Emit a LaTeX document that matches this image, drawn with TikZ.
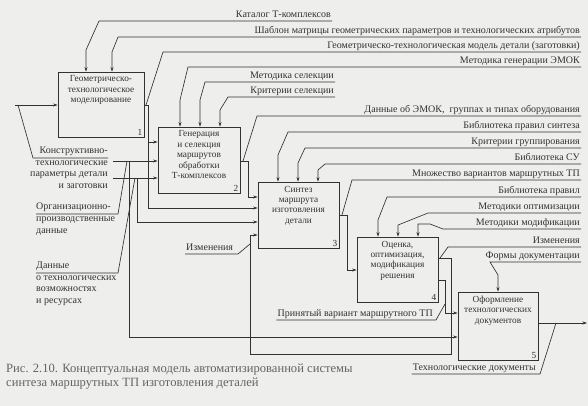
\documentclass[tikz,border=0pt]{standalone}
\usepackage{fontspec}
\setmainfont{Liberation Serif}
\usetikzlibrary{arrows.meta, positioning, calc}
\definecolor{ink}{RGB}{50,50,50}
\definecolor{capink}{RGB}{100,100,100}
\definecolor{paper}{RGB}{238,238,236}
\newcommand{\boxfont}{\fontsize{9.3}{10.4}\selectfont}
\newcommand{\lblfont}{\fontsize{10}{11.6}\selectfont}
\newcommand{\capfont}{\fontsize{12.6}{14}\selectfont}

\begin{document}
\begin{tikzpicture}[
    x=1pt, y=-1pt,
    fbox/.style={draw=ink, line width=0.7pt, inner sep=0pt},
    ftext/.style={align=center, font=\boxfont, text=ink, inner sep=1pt},
    fnum/.style={font=\boxfont, text=ink, inner sep=2pt, anchor=south east},
    lbl/.style={font=\lblfont, text=ink, inner sep=1pt, text depth=2.5pt, anchor=south east},
    side/.style={font=\lblfont, text=ink, inner sep=0pt},
    wire/.style={draw=ink, line width=0.65pt},
    arr/.style={wire, -{Stealth[length=4.5pt, width=3pt]}}
]
    \fill[paper] (0,0) rectangle (588,406);
    \useasboundingbox (0,0) rectangle (588,406);

    % functional blocks
    \node[fbox, minimum width=86pt, minimum height=65pt] (gtm) at (101,104.5) {};
    \node[fbox, minimum width=82pt, minimum height=66pt] (gen) at (199,160) {};
    \node[fbox, minimum width=81pt, minimum height=66pt] (syn) at (298.5,215) {};
    \node[fbox, minimum width=81pt, minimum height=65pt] (opt) at (397.5,269.5) {};
    \node[fbox, minimum width=80pt, minimum height=68pt] (doc) at (498,326) {};

    \node[ftext, below=3pt of gtm.north] {Геометрическо-\\технологическое\\моделирование};
    \node[ftext, below=3pt of gen.north] {Генерация\\и селекция\\маршрутов\\обработки\\Т-комплексов};
    \node[ftext, below=3pt of syn.north] {Синтез\\маршрута\\изготовления\\детали};
    \node[ftext, below=3pt of opt.north] {Оценка,\\оптимизация,\\модификация\\решения};
    \node[ftext, below=3pt of doc.north] {Оформление\\технологических\\документов};

    \node[fnum] at (gtm.south east) {1};
    \node[fnum] at (gen.south east) {2};
    \node[fnum] at (syn.south east) {3};
    \node[fnum] at (opt.south east) {4};
    \node[fnum] at (doc.south east) {5};

    % inputs on the left
    \coordinate (kin) at (15,105);
    \coordinate (orgin) at (113,161);
    \coordinate (techin) at (113,178);
    \node[side, anchor=north east, align=right] (kt) at (108,147)
        {Конструктивно-\\технологические\\параметры детали\\и заготовки};
    \node[side, anchor=north west, align=left] (org) at (36,203)
        {Организационно-\\производственные\\данные};
    \node[side, anchor=north west, align=left] (tech) at (36,262)
        {Данные\\о технологических\\возможностях\\и ресурсах};

    \draw[arr] (kin) -- (gtm.west |- kin);
    \draw[arr] (orgin) -- (gen.west |- orgin);
    \draw[arr] (techin) -- (gen.west |- techin);
    \draw[arr] (129,161) |- (doc.west |- 0,337);
    \draw[arr] (137,178) |- (syn.west |- 0,222);
    \draw[wire] (kt.north east |- 0,158) -- (33,158) -- (18,105);
    \draw[wire] (org.north west |- 0,214) -- (118,214) -- (127,161);
    \draw[wire] (tech.north west |- 0,273) -- (118,273) -- (135,178);

    % controls and labelled outputs
    \node[lbl] (catalog) at (332,21) {Каталог Т-комплексов};
    \draw[arr] (catalog.south east) -- (99,21) -- (86,50) -- (gtm.north -| 86,0);
    \node[lbl] (template) at (581,37) {Шаблон матрицы геометрических параметров и технологических атрибутов};
    \draw[arr] (template.south east) -- (118,37) -- (112,52) -- (gtm.north -| 112,0);
    \node[lbl] (geomodel) at (581,52) {Геометрическо-технологическая модель детали (заготовки)};
    \draw[wire] (geomodel.south east) -- (163,52) -- (146,105);
    \node[lbl] (genmeth) at (581,67) {Методика генерации ЭМОК};
    \draw[arr] (genmeth.south east) -- (188,67) -- (180,100) -- (gen.north -| 180,0);
    \node[lbl] (selmeth) at (335,82) {Методика селекции};
    \draw[arr] (selmeth.south east) -- (205,82) -- (200,100) -- (gen.north -| 200,0);
    \node[lbl] (selcrit) at (335,97) {Критерии селекции};
    \draw[arr] (selcrit.south east) -- (228,97) -- (220,110) -- (gen.north -| 220,0);
    \node[lbl] (emok) at (581,116) {Данные об ЭМОК,~ группах и типах оборудования};
    \draw[wire] (emok.south east) -- (257,116) -- (243,161);
    \node[lbl] (synlib) at (581,132) {Библиотека правил синтеза};
    \draw[arr] (synlib.south east) -- (288,132) -- (278,155) -- (syn.north -| 278,0);
    \node[lbl] (grpcrit) at (581,148) {Критерии группирования};
    \draw[arr] (grpcrit.south east) -- (305,148) -- (298,163) -- (syn.north -| 298,0);
    \node[lbl] (sulib) at (581,164) {Библиотека СУ};
    \draw[arr] (sulib.south east) -- (325,164) -- (318,170) -- (syn.north -| 318,0);
    \node[lbl] (variants) at (581,180) {Множество вариантов маршрутных ТП};
    \draw[wire] (variants.south east) -- (352,180) -- (342,215);
    \node[lbl] (rulelib) at (581,197) {Библиотека правил};
    \draw[arr] (rulelib.south east) -- (387,197) -- (378,220) -- (opt.north -| 378,0);
    \node[lbl] (optmeth) at (581,213) {Методики оптимизации};
    \draw[arr] (optmeth.south east) -- (428,213) -- (398,225) -- (opt.north -| 398,0);
    \node[lbl] (modmeth) at (581,229) {Методики модификации};
    \draw[arr] (modmeth.south east) -- (443,229) -- (430,224) -- (418,224) -- (opt.north -| 418,0);
    \node[lbl] (changes) at (581,247) {Изменения};
    \draw[wire] (changes.south east) -- (448,247) -- (440,258);
    \node[lbl] (forms) at (581,262) {Формы документации};
    \draw[arr] (forms.south east) -- (490,262) -- (498,275) -- (doc.north -| 498,0);
    \node[lbl] (accepted) at (434,320) {Принятый вариант маршрутного ТП};
    \draw[wire] (accepted.south west) -- (436,320) -- (445,304);
    \node[lbl] (techdocs) at (537,374) {Технологические документы};
    \draw[wire] (techdocs.south west) -- (540,374) -- (556,323);
    \node[lbl, anchor=south west] (chg) at (185,254) {Изменения};
    \draw[wire] (chg.south west) -- (238,254) -- (250,244);

    % block outputs
    \draw[arr] (gtm.east |- 0,105) -- (148,105) |- (gen.west |- 0,142);
    \draw[arr] (148,142) |- (syn.west |- 0,208);
    \draw[arr] (gen.east |- 0,161) -- (248,161) |- (syn.west |- 0,197);
    \draw[arr] (syn.east |- 0,215) -- (347,215) |- (opt.west |- 0,270);
    \draw[arr] (opt.east |- 0,258) -- (451,258) -- (451,354) -- (250,354) |- (syn.west |- 0,235);
    \draw[arr] (opt.east |- 0,280) -- (445,280) |- (doc.west |- 0,313);
    \coordinate (docout) at (587,323);
    \draw[arr] (doc.east |- 0,323) -- (docout);

    \node[anchor=north west, align=left, font=\capfont, text=capink, inner sep=0pt] (cap) at (6,364)
        {Рис. 2.10. Концептуальная модель автоматизированной системы\\синтеза маршрутных ТП изготовления деталей};
\end{tikzpicture}
\end{document}
